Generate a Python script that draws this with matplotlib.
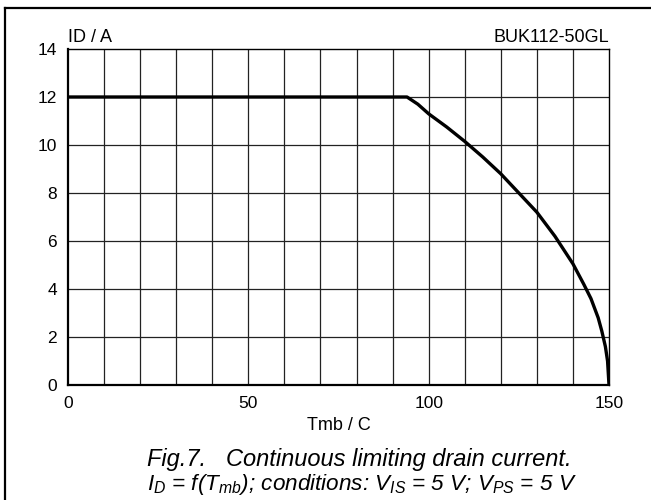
import matplotlib
matplotlib.use("Agg")
import matplotlib.pyplot as plt
from matplotlib.lines import Line2D

# Data
temp_c = [0, 94, 97, 100, 105, 110, 115, 120, 125, 130, 135, 140, 143, 145, 147, 148, 149, 149.6, 150]
drain_a = [12.0, 12.0, 11.7, 11.3, 10.75, 10.15, 9.5, 8.8, 8.0, 7.2, 6.2, 5.05, 4.2, 3.6, 2.8, 2.25, 1.6, 1.0, 0.0]
x_ticks = [0, 50, 100, 150]
y_ticks = [0, 2, 4, 6, 8, 10, 12, 14]
x_grid = [10, 20, 30, 40, 50, 60, 70, 80, 90, 100, 110, 120, 130, 140]
y_grid = [2, 4, 6, 8, 10, 12]

plt.rcParams['font.family'] = ['Liberation Sans', 'DejaVu Sans']
plt.rcParams['mathtext.fontset'] = 'custom'
plt.rcParams['mathtext.rm'] = 'Liberation Sans:italic'
plt.rcParams['mathtext.it'] = 'Liberation Sans:italic'

fig = plt.figure(figsize=(6.51, 5.0), dpi=100)
ax = fig.add_axes([68/651, 1-385/500, (609-68)/651, (385-49)/500])

for gx in x_grid:
    ax.axvline(gx, color='#222222', lw=0.9, zorder=1)
for gy in y_grid:
    ax.axhline(gy, color='#222222', lw=0.9, zorder=1)

ax.plot(temp_c, drain_a, color='black', lw=2.4, solid_capstyle='butt', zorder=3)

ax.set_xlim(0, 150)
ax.set_ylim(0, 14)
ax.set_xticks(x_ticks)
ax.set_yticks(y_ticks)
ax.tick_params(length=0, labelsize=12.5, pad=8)
for s in ['left', 'bottom']:
    ax.spines[s].set_linewidth(1.6)
for s in ['top', 'right']:
    ax.spines[s].set_linewidth(1.0)

ax.text(0, 14.3, 'ID / A', fontsize=13, ha='left', va='baseline')
ax.text(150, 14.3, 'BUK112-50GL', fontsize=13, ha='right', va='baseline')
ax.set_xlabel('Tmb / C', fontsize=13, labelpad=4)

fig.text(359/651, 1-466/500, 'Fig.7.   Continuous limiting drain current.',
         fontsize=17, style='italic', ha='center', va='baseline')
fig.text(362/651, 1-490/500,
         r'$I_D$ = f($T_{mb}$); conditions: $V_{IS}$ = 5 V; $V_{PS}$ = 5 V',
         fontsize=16.2, style='italic', ha='center', va='baseline')

# outer frame (left and top edges visible)
fig.add_artist(Line2D([5/651, 5/651], [0, 1-8/500], transform=fig.transFigure, color='black', lw=1.6))
fig.add_artist(Line2D([5/651, 1], [1-8/500, 1-8/500], transform=fig.transFigure, color='black', lw=1.6))

fig.savefig('out.png', dpi=100)
